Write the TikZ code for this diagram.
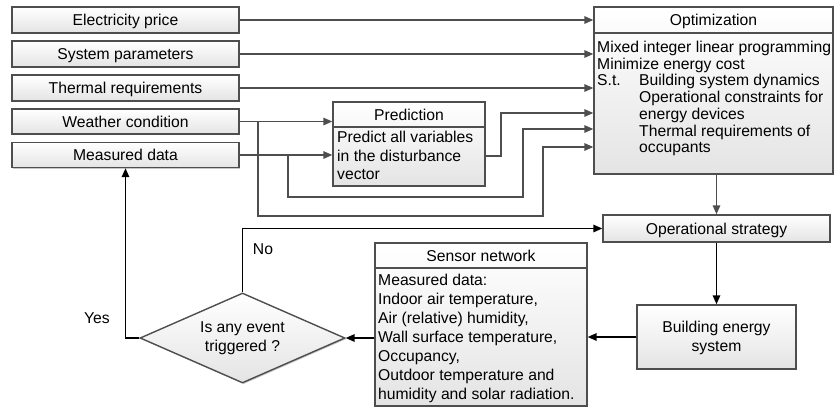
\documentclass[tikz,border=0pt]{standalone}
\usepackage{fontspec}
\setmainfont{Liberation Sans}
\usetikzlibrary{arrows.meta,shapes.geometric,shadows}
\definecolor{edge}{HTML}{4E4E4E}
\definecolor{boxbot}{HTML}{E4E4E4}
\newcommand{\fs}{\fontsize{15.7}{18.8}\selectfont}
\begin{document}
\begin{tikzpicture}[x=1pt,y=-1pt,
  box/.style={rectangle, draw=edge, line width=1.4pt, top color=white, bottom color=boxbot, inner sep=0pt,
    drop shadow={shadow xshift=1.2pt, shadow yshift=-1.2pt, opacity=0.22, fill=black}},
  one/.style={font=\fs, inner sep=0pt, text height=11.2pt, text depth=0pt},
  body/.style={font=\fs, inner sep=0pt, align=left, anchor=north west},
  tip/.style={-{Triangle[length=9pt,width=7.5pt]}},
  gline/.style={draw=edge, line width=1.6pt, tip},
  bline/.style={draw=black, line width=1.6pt, tip},
  divider/.style={draw=edge, line width=1.4pt}]
\useasboundingbox (0,0) rectangle (836,407);

% left input boxes
\node[box, one, minimum width=227pt, minimum height=26pt] (elec) at (125.5,20) {Electricity price};
\node[box, one, minimum width=227pt, minimum height=26pt] (sys) at (125.5,54) {System parameters};
\node[box, one, minimum width=227pt, minimum height=26pt] (therm) at (125.5,88) {Thermal requirements};
\node[box, one, minimum width=227pt, minimum height=25pt] (weat) at (125.5,121.5) {Weather condition};
\node[box, one, minimum width=227pt, minimum height=25pt] (meas) at (125.5,155) {Measured data};

% prediction
\node[box, minimum width=152pt, minimum height=84pt] (pred) at (409,144) {};
\draw[divider] (pred.west |- 0,127) -- (pred.east |- 0,127);
\node[one] (predh) at (409,114.5) {Prediction};
\node[body, font=\fontsize{15.7}{18.5}\selectfont] (predb) at (337,130.5)
  {\rule{0pt}{12pt}Predict all variables\\in the disturbance\\vector};

% optimization
\node[box, minimum width=239pt, minimum height=167pt] (opt) at (713.5,90.5) {};
\draw[divider] (opt.west |- 0,33) -- (opt.east |- 0,33);
\node[one] (opth) at (713.5,20) {Optimization};
\node[body, font=\fontsize{15.7}{16.7}\selectfont] (optb) at (597,40.3)
  {\rule{0pt}{12pt}Mixed integer linear programming\\
   Minimize energy cost\\
   \makebox[42pt][l]{S.t.}Building system dynamics\\
   \hspace*{42pt}Operational constraints for\\
   \hspace*{42pt}energy devices\\
   \hspace*{42pt}Thermal requirements of\\
   \hspace*{42pt}occupants};

% operational strategy
\node[box, one, minimum width=227pt, minimum height=27pt] (ops) at (716.5,228.5) {Operational strategy};

% building energy system
\node[box, minimum width=159pt, minimum height=64pt] (bes) at (716.5,337) {};
\node[font=\fs, inner sep=0pt, align=center, anchor=north] (best) at (716.5,320.6)
  {\rule{0pt}{12pt}Building energy\\system};

% sensor network
\node[box, minimum width=212pt, minimum height=163pt] (sen) at (481,324.5) {};
\draw[divider] (sen.west |- 0,268) -- (sen.east |- 0,268);
\node[one] (senh) at (481,255.5) {Sensor network};
\node[body, font=\fontsize{15.7}{18.9}\selectfont] (senb) at (378,273.6)
  {\rule{0pt}{12pt}Measured data:\\
   Indoor air temperature,\\
   Air (relative) humidity,\\
   Wall surface temperature,\\
   Occupancy,\\
   Outdoor temperature and\\
   humidity and solar radiation.};

% decision
\node[diamond, aspect=2.28, draw=edge, line width=1.4pt, top color=white, bottom color=boxbot,
  minimum width=205pt, minimum height=90pt, inner sep=1pt,
  drop shadow={shadow xshift=1.2pt, shadow yshift=-1.2pt, opacity=0.22, fill=black}] (dia) at (242.5,338) {};
\node[font=\fs, inner sep=0pt, align=center, anchor=north] (diat) at (242.5,320.6)
  {\rule{0pt}{12pt}Is any event\\triggered ?};

\node[one] (yes) at (97,318) {Yes};
\node[one] (no) at (263,249) {No};

% bend coordinates
\coordinate (w1) at (258,216);
\coordinate (w2) at (543,147);
\coordinate (m1) at (288,197);
\coordinate (m2) at (523,129);
\coordinate (p0) at (501,156);
\coordinate (p1) at (501,113);

% gray connectors
\draw[gline] (elec.east) -- (elec.east -| opt.west);
\draw[gline] (sys.east) -- (sys.east -| opt.west);
\draw[gline] (therm.east) -- (therm.east -| opt.west);
\draw[gline] (weat.east) -- (weat.east -| pred.west);
\draw[gline] (meas.east) -- (meas.east -| pred.west);
\draw[gline] (weat.east -| w1) -- (w1) -| (w2) -- (w2 -| opt.west);
\draw[gline] (meas.east -| m1) -- (m1) -| (m2) -- (m2 -| opt.west);
\draw[gline] (p0 -| pred.east) -- (p0) -- (p1) -- (p1 -| opt.west);
\draw[gline] (opt.south -| ops.north) -- (ops.north);

% black connectors
\draw[bline] (ops.south) -- (bes.north);
\draw[bline] (bes.west) -- (bes.west -| sen.east);
\draw[bline] (dia.east -| sen.west) -- (dia.east);
\draw[bline] (dia.west) -| (meas.south);
\draw[bline] (dia.north) |- (ops.west);
\end{tikzpicture}
\end{document}
